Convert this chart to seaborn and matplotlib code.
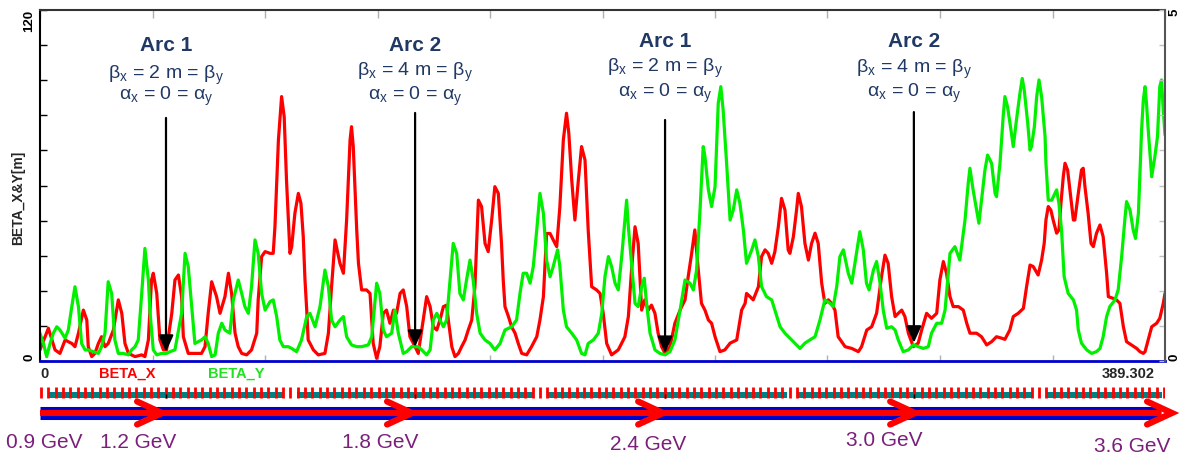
import numpy as np
import pandas as pd
import matplotlib
matplotlib.use("Agg")
import matplotlib.pyplot as plt
from matplotlib.patches import Rectangle
import seaborn as sns

# ---------------- optics data (s in m, beta in m) ----------------
S_END = 389.302

s_x = [0.0, 2.9, 5.2, 6.9, 8.7, 9.8, 11.0, 12.1, 13.3, 15.0, 16.2, 16.7, 17.9, 19.0, 20.2, 21.3, 22.5, 23.6,
       25.4, 27.1, 28.3, 29.4, 30.6, 32.9, 35.2, 36.3, 37.5, 38.6, 39.2, 40.4, 41.5, 42.7, 43.8, 45.6, 46.7,
       47.9, 49.0, 49.6, 51.3, 53.6, 55.9, 57.1, 58.2, 59.4, 61.1, 62.3, 64.0,
       65.2, 66.3, 67.5, 68.6, 69.8, 71.5, 73.2, 75.0, 75.5, 76.7, 77.9, 79.6, 80.7, 81.3, 82.5, 83.6, 84.5,
       85.3, 86.5, 87.1, 88.2, 89.4, 90.3, 91.1, 91.7, 92.3, 92.8, 94.6, 96.3, 98.6, 99.8, 100.9, 102.1,
       103.8, 105.0, 106.1, 107.3, 107.8, 108.4, 109.6, 110.2, 111.3, 113.0, 114.2, 115.3, 116.5, 117.6,
       118.8, 119.9, 121.1, 122.3, 123.4, 124.6, 125.7, 126.9, 128.0, 129.8, 130.9,
       132.6, 133.8, 135.0, 136.1, 137.3, 138.4, 139.6, 140.7, 141.3, 142.5, 143.6, 144.8, 145.9, 147.1,
       148.2, 149.4, 150.5, 151.7, 152.8, 154.0, 155.1, 156.3, 157.4, 158.6, 159.7, 160.3, 160.9, 162.1,
       163.2, 164.4, 165.5, 166.7, 168.4, 170.1, 171.9, 173.0, 174.2, 175.3, 176.5, 177.6, 178.8, 179.9,
       181.1, 182.2, 183.0, 184.0, 185.1, 186.3, 187.4, 188.6, 189.7, 190.9, 192.6, 193.8, 194.9, 196.1, 197.8,
       200.1, 201.3, 202.4, 203.6, 204.7, 205.9, 207.0, 208.2, 209.3, 210.5, 211.6, 212.8, 213.9, 215.1,
       216.3, 218.0, 219.7, 221.5, 223.2, 224.3, 225.5, 226.6, 227.8, 228.9, 230.1, 231.3, 232.4, 233.6,
       235.3, 237.0, 238.8, 241.1, 242.8, 244.0, 244.5, 245.7, 246.8, 248.6, 249.7, 250.9, 252.0, 253.2,
       254.3, 255.5, 256.6, 257.8, 258.9, 259.5, 260.7, 261.8, 262.4, 263.5,
       264.7, 265.9, 267.0, 268.2, 269.3, 270.5, 271.6, 272.8, 273.9, 275.1, 276.2, 278.6, 280.9, 283.2,
       284.3, 286.1, 287.8, 289.5, 291.2, 292.4, 293.5, 294.7, 295.9, 297.0, 298.2, 299.3, 300.5, 302.2,
       303.9, 305.1, 306.8, 308.5, 310.3, 311.4, 312.6, 313.7, 314.9, 316.0, 317.8, 319.5, 320.7, 321.8,
       324.1, 325.8, 327.6,
       329.3, 331.0, 332.8, 333.9, 335.6, 336.8, 338.5, 340.3, 341.4, 342.6, 343.7, 345.4, 346.6, 347.5,
       348.1, 348.9, 349.8, 350.6, 351.8, 352.6, 353.3, 354.1, 354.7, 355.6, 356.4, 357.6, 358.1, 359.3,
       360.4, 361.0, 361.6, 362.7, 363.7, 364.5, 365.6, 366.8, 367.9, 369.1, 369.7, 371.4, 372.5, 373.7,
       374.9, 376.0, 377.7, 379.5, 380.6, 381.8, 382.4, 383.5, 384.7, 386.4, 387.5, 388.7, 389.3]
beta_x = [3.8, 11.2, 3.8, 2.6, 7.2, 6.6, 6.0, 4.9, 9.5, 17.4, 14.0, 4.9, 1.5, 2.6, 6.0, 8.3, 4.9, 6.0,
          10.6, 20.9, 16.3, 6.0, 2.6, 1.5, 2.1, 1.5, 7.2, 27.7, 30.0, 23.1, 7.2, 3.8, 3.8, 16.3, 27.7,
          29.4, 22.0, 8.3, 2.6, 2.6, 2.6, 4.9, 16.3, 27.1, 22.0, 16.3, 22.0,
          30.0, 23.1, 9.5, 4.9, 2.6, 2.1, 3.8, 9.5, 20.9, 35.7, 37.4, 36.8, 36.8, 45.9, 75.5, 90.4, 83.5,
          61.9, 36.8, 39.1, 50.5, 57.3, 53.9, 42.5, 27.7, 17.4, 7.2, 3.8, 2.1, 2.6, 9.5, 25.4, 41.4,
          33.4, 30.0, 48.2, 75.6, 80.1, 73.3, 44.8, 33.4, 24.3, 24.3, 23.1, 6.0, 0.9, 4.9,
          16.3, 17.4, 12.9, 17.4, 16.3, 23.1, 24.3, 18.6, 8.3, 4.9, 2.6,
          14.0, 22.0, 18.6, 11.7, 10.6, 14.0, 18.6, 19.1, 14.0, 4.9, 1.5, 2.6, 4.9, 7.2,
          10.6, 14.0, 25.4, 55.0, 52.8, 40.2, 37.4, 48.2, 59.6, 57.3, 40.2, 27.7, 18.6, 15.2,
          11.7, 9.5, 6.0, 2.6, 2.1, 4.9, 8.3, 14.0, 22.0, 43.6, 43.6, 41.4, 39.1, 52.8,
          75.6, 84.7, 77.8, 61.9, 48.2, 61.9, 73.3, 68.7, 44.8, 25.4, 24.3, 23.1, 16.3, 6.0, 2.1,
          3.8, 6.1, 8.3, 15.2, 31.1, 45.9, 40.2, 17.4, 20.9, 17.4, 19.1, 16.3, 9.5, 4.9,
          2.6, 4.9, 12.9, 17.4, 20.9, 28.8, 36.8, 44.8, 31.1, 19.7, 17.4, 14.0, 12.9, 8.3,
          3.2, 3.8, 6.1, 7.2, 17.4, 19.7, 23.1, 22.0, 20.9, 25.4, 35.7, 38.0, 36.8, 33.4,
          37.4, 45.9, 55.6, 51.6, 38.0, 36.8, 42.5, 51.6, 57.3, 52.8,
          40.2, 34.5, 40.2, 43.7, 40.2, 26.6, 19.7, 20.9, 19.7, 17.4, 8.3, 4.9, 4.3, 3.2,
          4.9, 10.6, 11.7, 16.3, 28.8, 36.2, 33.4, 22.0, 15.2, 16.3, 17.4, 15.2, 9.5, 4.9,
          6.1, 10.6, 16.3, 14.6, 16.3, 27.7, 34.0, 30.0, 22.0, 18.6, 18.6, 17.4, 12.9, 9.5,
          9.5, 8.3, 5.5,
          6.6, 8.3, 7.8, 7.4, 10.6, 15.2, 16.3, 18.0, 25.4, 32.8, 32.3, 29.4, 34.5, 40.2,
          48.2, 52.8, 51.6, 48.2, 43.7, 44.8, 53.9, 63.0, 67.6, 65.3, 58.5, 48.2, 48.2, 57.3,
          65.3, 65.9, 59.6, 50.5, 40.2, 39.1, 43.7, 46.5, 42.5, 30.0, 22.0, 21.4, 20.9, 19.7,
          11.7, 6.6, 5.5, 4.3, 3.2, 2.6, 3.2, 7.2, 11.7, 12.9, 14.6, 19.7, 23.1]

s_y = [0.0, 1.2, 2.3, 3.5, 4.6, 5.8, 6.9, 8.7, 9.8, 11.0, 12.1, 13.3, 14.4, 15.6, 16.7, 18.5, 20.2, 21.3,
       22.5, 23.6, 24.8, 25.9, 27.1, 28.8, 30.6, 31.7, 32.9, 34.0, 35.2, 36.3, 37.5, 38.1, 39.2, 40.4,
       42.1, 43.8, 45.0, 46.7, 49.0, 50.2, 51.3, 52.5, 53.6, 55.9, 57.1, 58.2, 59.4, 60.6, 61.7, 62.9, 64.0,
       65.7, 66.9, 68.6, 69.8, 70.9, 72.1, 73.2, 74.4, 75.5, 76.7, 77.9, 79.6, 80.7, 81.9, 83.0, 84.2,
       85.9, 87.1, 88.8, 90.5, 92.3, 93.4, 95.2, 96.9, 98.6, 99.8, 100.9, 102.1, 103.8, 105.0, 106.1,
       107.8, 109.6, 111.3, 113.6, 114.8, 116.5, 117.6, 118.8, 119.9, 121.7, 122.8, 124.0, 125.7, 126.9,
       128.6, 130.9,
       132.1, 133.8, 135.0, 136.1, 137.3, 138.4, 139.6, 140.7, 141.9, 143.0, 144.2, 145.3, 146.5, 147.6,
       148.8, 149.9, 151.1, 152.3, 154.0, 155.7, 157.4, 159.2, 160.9, 163.2, 164.9, 166.1, 167.2, 168.4,
       169.6, 170.7, 171.9, 173.0, 174.2, 175.3, 176.5, 177.6, 179.1, 179.9, 181.1, 182.2, 184.0, 185.7,
       187.4, 188.6, 189.7, 191.5, 193.2, 194.4,
       195.5, 196.7, 197.8, 199.0, 200.1, 201.3, 202.4, 203.0, 203.6, 204.7, 205.9, 207.0, 208.2, 209.1,
       209.9, 211.1, 212.8, 214.5, 216.3, 218.0, 219.7, 221.5, 223.2, 224.9, 226.1, 227.2, 228.4, 229.5,
       230.1, 231.3, 232.4, 233.6, 234.7, 235.6, 236.4, 237.6, 238.8, 239.9, 241.1, 242.2, 243.4, 244.5,
       246.3, 247.4, 248.6, 249.7, 251.4, 253.2, 254.3, 256.1, 257.8, 260.1,
       263.0, 264.7, 266.4, 268.2, 269.9, 271.6, 273.4, 274.5, 275.7, 276.8, 278.0, 279.7, 280.9, 282.0,
       283.7, 284.9, 286.0, 286.9, 288.4, 289.5, 290.7, 291.8, 293.0, 294.7, 295.9, 297.0, 298.7, 300.5,
       302.2, 303.9, 305.7, 307.4, 308.5, 310.3, 312.0, 313.2, 314.9, 316.6, 318.3, 320.1, 321.2, 321.8,
       322.9, 324.1, 324.9, 325.8, 327.0, 327.9,
       329.3, 330.5, 331.0, 332.2, 333.3, 333.9, 334.8, 336.0, 336.8, 337.9, 339.1, 339.9, 340.6, 341.8,
       342.6, 343.1, 344.1, 344.9, 345.7, 346.6, 347.8, 348.1, 348.9, 350.1, 351.2, 351.8, 352.6, 353.5,
       354.4, 355.8, 357.6, 358.7, 359.3, 360.4, 362.2, 363.9, 365.6, 366.8, 367.9, 369.1, 370.2, 372.0,
       373.1, 374.3, 375.4, 376.0, 377.2, 378.3, 379.1, 380.1, 380.6, 381.2, 381.8, 382.4, 382.9, 383.5,
       384.7, 385.8, 386.7, 387.5, 388.1, 388.7, 389.3]
beta_y = [9.5, 6.0, 1.5, 6.0, 9.5, 11.7, 10.6, 7.8, 10.6, 18.6, 25.4, 18.6, 6.0, 3.8, 3.8, 3.2, 2.6, 4.9,
          9.5, 27.1, 23.1, 7.2, 2.6, 2.6, 2.1, 3.8, 4.9, 7.2, 23.1, 38.5, 27.7, 16.3, 3.8, 2.1,
          2.6, 2.6, 3.2, 3.8, 16.3, 36.8, 32.3, 18.6, 6.0, 7.2, 8.3, 6.0, 1.5, 2.1, 9.5, 12.9, 10.6,
          9.5, 20.9, 27.7, 23.1, 18.6, 16.3, 25.4, 41.4, 36.8, 23.1, 17.4, 20.3, 20.9, 15.2, 7.2, 4.9,
          4.9, 4.3, 3.2, 7.2, 15.2, 16.3, 11.7, 18.6, 31.1, 25.4, 14.0, 11.7, 14.0, 15.2, 8.3,
          5.5, 4.9, 4.9, 5.5, 8.3, 26.6, 23.1, 10.6, 8.3, 9.5, 17.4, 9.5, 2.6, 3.2,
          4.9, 4.9,
          3.8, 2.1, 3.8, 14.0, 16.3, 14.0, 11.7, 14.0, 27.7, 40.2, 36.8, 23.1, 20.9, 27.7,
          34.5, 27.7, 16.3, 9.5, 7.2, 6.0, 3.8, 6.0, 10.6, 11.7, 14.0, 23.1, 30.0, 30.0,
          26.6, 32.3, 44.8, 57.3, 50.5, 34.5, 28.8, 32.3, 38.0, 32.3, 17.4, 11.7, 9.5, 7.2,
          2.6, 2.1, 6.0, 7.2, 9.5, 16.3,
          28.8, 35.7, 32.3, 26.6, 24.3, 35.7, 48.2, 55.0, 45.9, 33.4, 19.7, 18.6, 25.4, 28.3,
          19.7, 9.5, 3.8, 2.6, 2.1, 3.2, 7.2, 17.4, 27.7, 26.6, 24.3, 31.1, 51.6, 73.3,
          69.9, 58.5, 52.8, 59.6, 88.1, 93.8, 85.8, 67.6, 48.2, 51.6, 58.5, 53.9, 44.8, 33.4,
          38.0, 41.4, 35.7, 25.4, 22.0, 20.9, 17.4, 11.7, 9.5, 7.2,
          4.3, 6.1, 7.2, 8.3, 14.0, 20.9, 19.7, 18.6, 25.4, 35.7, 38.0, 30.0, 26.6, 33.4,
          44.2, 38.0, 26.6, 24.3, 31.1, 34.0, 26.6, 17.4, 11.2, 11.7, 10.6, 7.2, 3.2, 3.8,
          5.5, 4.9, 4.3, 4.9, 9.5, 12.9, 12.9, 17.4, 36.8, 39.1, 34.5, 48.2, 60.7, 65.9,
          58.5, 51.6, 47.1, 55.0, 65.3, 70.4,
          67.6, 57.3, 56.2, 67.6, 83.5, 90.4, 87.0, 79.0, 73.3, 82.4, 91.5, 96.6, 92.6, 81.3,
          72.1, 73.3, 80.1, 90.4, 96.1, 90.4, 76.7, 67.6, 55.0, 55.0, 57.3, 58.5, 53.9, 44.8,
          28.8, 23.1, 20.9, 17.4, 10.6, 6.1, 3.8, 2.6, 3.2, 4.3, 8.3, 15.2, 18.6, 20.9,
          24.3, 35.7, 48.2, 54.5, 51.6, 44.8, 41.9, 50.5, 63.0, 79.0, 89.2, 93.8, 88.1, 79.0,
          63.0, 69.9, 76.7, 93.8, 96.1, 85.8, 77.3]

# matching points at the arc entrances
arc_s = [43.6, 129.8, 216.3, 302.4]
arc_names = ["Arc 1", "Arc 2", "Arc 1", "Arc 2"]
arc_beta = [2, 4, 2, 4]
arc_title_y = [108.0, 107.7, 109.1, 109.1]
arc_line2_y = [97.8, 98.5, 100.2, 99.8]
arc_line3_y = [90.3, 90.3, 91.6, 91.6]
arrow_top = [83.1, 84.8, 82.4, 85.1]
arrow_tip = [3.1, 4.8, 2.7, 6.2]

# lattice: dipole strings and quadrupole cell length
dipole_blocks = [(2.8, 84.1), (88.9, 170.6), (175.4, 258.5), (262.3, 343.6), (348.4, 388.2)]
quad_cell = 2.54

# energy gain along the linac passes
energy_labels = ["0.9 GeV", "1.2 GeV", "1.8 GeV", "2.4 GeV", "3.0 GeV", "3.6 GeV"]
energy_s = [1.4, 33.9, 117.6, 210.4, 292.0, 377.9]
energy_ypix = [442, 442, 442, 445, 440, 447]
chevron_s = [42.2, 128.7, 215.6, 302.8, 391.7]

# ---------------- styling ----------------
sns.set_style("white")
plt.rcParams["font.family"] = ["Liberation Sans", "DejaVu Sans"]
plt.rcParams["mathtext.default"] = "regular"

RED = "#ff0000"
GREEN = "#00f000"
NAVY = "#1f3864"
PURPLE = "#7a1f7a"
TEAL = "#008080"
BLUE = "#0000cc"

W, H = 1182, 458
fig = plt.figure(figsize=(W / 100, H / 100), dpi=100)


def pix_box(x0, y0, x1, y1):
    return [x0 / W, 1 - y1 / H, (x1 - x0) / W, (y1 - y0) / H]


ax = fig.add_axes(pix_box(40, 10, 1165, 361))

df = pd.concat([
    pd.DataFrame({"s": s_x, "beta": beta_x, "plane": "BETA_X"}),
    pd.DataFrame({"s": s_y, "beta": beta_y, "plane": "BETA_Y"}),
], ignore_index=True)

sns.lineplot(data=df, x="s", y="beta", hue="plane", palette={"BETA_X": RED, "BETA_Y": GREEN},
             estimator=None, sort=False, legend=False, linewidth=2.3, ax=ax)

ax.set_xlim(0, S_END)
ax.set_ylim(0, 120)
ax.set_xlabel("")
ax.set_ylabel("")
ax.set_xticks(np.linspace(0, S_END, 11))
ax.set_yticks(np.arange(0, 121, 12))
ax.tick_params(axis="x", direction="in", length=4, width=1, color="#b0b0b0",
               top=True, bottom=True, labelbottom=False, labeltop=False)
for t in ax.xaxis.get_major_ticks():
    t.tick2line.set_color("#333333")
    t.tick2line.set_markersize(6)
ax.tick_params(axis="y", direction="in", length=5, width=1, color="black",
               left=True, right=False, labelleft=False)

ax.spines["bottom"].set_color(BLUE)
ax.spines["bottom"].set_linewidth(2)
ax.spines["left"].set_color("black")
ax.spines["left"].set_linewidth(1.5)
ax.spines["top"].set_color("#333333")
ax.spines["top"].set_linewidth(1.5)
ax.spines["right"].set_visible(False)

ax2 = ax.twinx()
ax2.set_ylim(0, 5)
ax2.set_yticks(np.arange(0, 5.01, 0.5))
ax2.tick_params(axis="y", direction="in", length=4, width=1, color="#c0c0c0", labelright=False)
for side in ("top", "bottom", "left"):
    ax2.spines[side].set_visible(False)
ax2.spines["right"].set_color("#555555")
ax2.spines["right"].set_linewidth(1.5)
ax2.grid(False)

# axis end labels
lab_kw = dict(fontweight="bold", fontsize=9.5, rotation=90, color="black")
ax.text(-0.004, 0, "0", transform=ax.transAxes, ha="right", va="bottom", **lab_kw)
ax.text(-0.004, 1, "120", transform=ax.transAxes, ha="right", va="top", **lab_kw)
ax.text(1.003, 0, "0", transform=ax.transAxes, ha="left", va="bottom", **lab_kw)
ax.text(1.003, 1.005, "5", transform=ax.transAxes, ha="left", va="top", **lab_kw)
fig.text(18 / W, 1 - 198 / H, "BETA_X&Y[m]", rotation=90, ha="center", va="center",
         fontweight="bold", fontsize=10)

# arc matching annotations
for s, name, b, ty, l2, l3, top, tip in zip(arc_s, arc_names, arc_beta, arc_title_y,
                                            arc_line2_y, arc_line3_y, arrow_top, arrow_tip):
    ax.text(s, ty, name, ha="center", va="center", fontsize=15, fontweight="bold", color=NAVY)
    ax.text(s, l2, r"$\beta_x$ = %d m = $\beta_y$" % b, ha="center", va="center",
            fontsize=14, color=NAVY)
    ax.text(s, l3, r"$\alpha_x$ = 0 = $\alpha_y$", ha="center", va="center",
            fontsize=14, color=NAVY)
    ax.annotate("", xy=(s, tip), xytext=(s, top),
                arrowprops=dict(arrowstyle="-|>,head_length=1.0,head_width=0.45",
                                mutation_scale=10, color="black", lw=1.6,
                                shrinkA=0, shrinkB=0))

# ---------------- lattice and beam line strip ----------------
axl = fig.add_axes(pix_box(40, 361, 1165, 458))
axl.set_xlim(0, S_END)
axl.set_ylim(458, 361)
axl.axis("off")

axl.text(0, 374, "0", ha="left", va="center", fontweight="bold", fontsize=10.5)
axl.text(30.3, 374, "BETA_X", ha="center", va="center", fontweight="bold", fontsize=10.5, color=RED)
axl.text(67.8, 374, "BETA_Y", ha="center", va="center", fontweight="bold", fontsize=10.5,
         color="#22e022")
axl.text(385.8, 374, "389.302", ha="right", va="center", fontweight="bold", fontsize=10.5)

for a, b in dipole_blocks:
    axl.add_patch(Rectangle((a, 392), b - a, 5.5, color=TEAL, lw=0))
quad_s = np.arange(0.3, S_END, quad_cell)
axl.vlines(quad_s, 386.5, 397.5, color=RED, lw=2.0)
axl.vlines(arc_s, 394, 398, color="black", lw=1.0)

axl.plot([0, 388.0], [412.5, 412.5], color=BLUE, lw=9.4, solid_capstyle="butt", clip_on=False)
axl.plot([0, 388.0], [413.0, 413.0], color=RED, lw=4.3, solid_capstyle="butt", clip_on=False)
for tip in chevron_s:
    axl.plot([tip - 8.6, tip, tip - 8.6], [401.5, 413, 424.5], color=RED, lw=4.5,
             solid_joinstyle="miter", solid_capstyle="round", clip_on=False)

for lab, s, yp in zip(energy_labels, energy_s, energy_ypix):
    axl.text(s, yp, lab, ha="center", va="center", fontsize=15, color=PURPLE, clip_on=False)

fig.savefig("out.png", dpi=100)
